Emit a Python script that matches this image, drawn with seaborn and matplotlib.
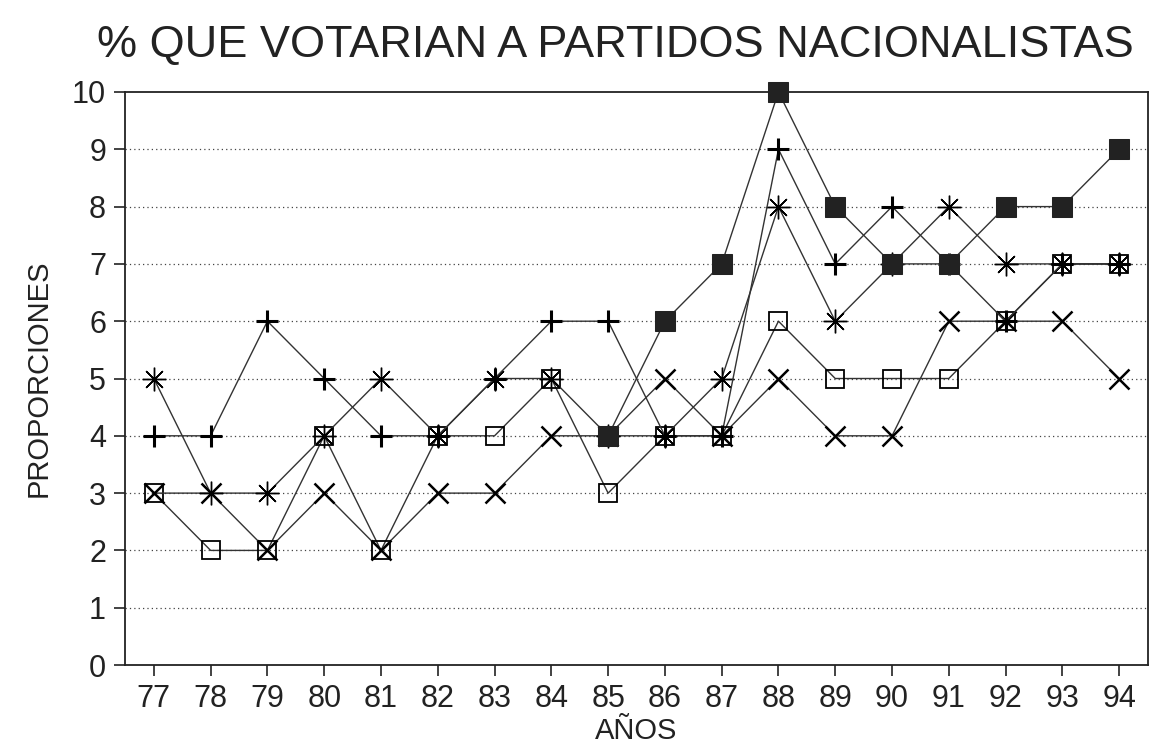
import numpy as np
import pandas as pd
import seaborn as sns
import matplotlib
import matplotlib.pyplot as plt
plt.switch_backend('agg')

years = list(range(77, 95))
nan = np.nan
# five series
serie_cuadrado_lleno = [nan, nan, nan, nan, nan, nan, nan, nan, 4, 6, 7, 10, 8, 7, 7, 8, 8, 9]
serie_cruz = [4, 4, 6, 5, 4, 4, 5, 6, 6, 4, 4, 9, 7, 8, 7, 6, 7, 7]
serie_asterisco = [5, 3, 3, 4, 5, 4, 5, 5, 4, 4, 5, 8, 6, 7, 8, 7, 7, 7]
serie_cuadrado = [3, 2, 2, 4, 2, 4, 4, 5, 3, 4, 4, 6, 5, 5, 5, 6, 7, 7]
serie_aspa = [3, 3, 2, 3, 2, 3, 3, 4, 4, 5, 4, 5, 4, 4, 6, 6, 6, 5]

title = '% QUE VOTARIAN A PARTIDOS NACIONALISTAS'
xlabel = 'AÑOS'
ylabel = 'PROPORCIONES'

sns.set_style('ticks')
plt.rcParams['font.family'] = ['Liberation Sans', 'DejaVu Sans']

fig = plt.figure(figsize=(11.51, 7.54), dpi=100)
ax = fig.add_axes([0.109, 0.118, 0.888, 0.760])

estilos = [
    (serie_cuadrado, dict(marker='s', markersize=13, markerfacecolor='none',
                          markeredgecolor='black', markeredgewidth=1.3), 2),
    (serie_aspa, dict(marker='x', markersize=15, markeredgewidth=1.8,
                      markeredgecolor='black'), 3),
    (serie_asterisco, dict(marker=(8, 2, 0), markersize=17, markeredgewidth=1.0,
                           markeredgecolor='black'), 4),
    (serie_cruz, dict(marker='+', markersize=16, markeredgewidth=2.2,
                      markeredgecolor='black'), 5),
    (serie_cuadrado_lleno, dict(marker='s', markersize=14, markerfacecolor='#222222',
                                markeredgecolor='#222222'), 6),
]

for valores, kw, z in estilos:
    df = pd.DataFrame({'anio': years, 'valor': valores}).dropna()
    sns.lineplot(data=df, x='anio', y='valor', ax=ax, color='#333333',
                 linewidth=1.0, zorder=z, clip_on=False, **kw)

ax.set_xlim(76.5, 94.5)
ax.set_ylim(0, 10)
ax.set_xticks(years)
ax.set_yticks(range(0, 11))
ax.tick_params(axis='both', direction='out', length=8, width=1.2,
               labelsize=22, colors='#222222', pad=6)
for s in ax.spines.values():
    s.set_linewidth(1.3)
    s.set_color('#222222')
for yv in range(1, 10):
    ax.axhline(yv, color='#444444', linewidth=0.9, linestyle=(0, (1, 2.5)), zorder=1)

ax.set_xlabel(xlabel, fontsize=21, color='#222222', labelpad=2)
ax.set_ylabel(ylabel, fontsize=21, color='#222222', labelpad=14)
fig.text(0.535, 0.94, title, fontsize=32.5, ha='center', va='center', color='#222222')

plt.savefig('out.png', dpi=100)
